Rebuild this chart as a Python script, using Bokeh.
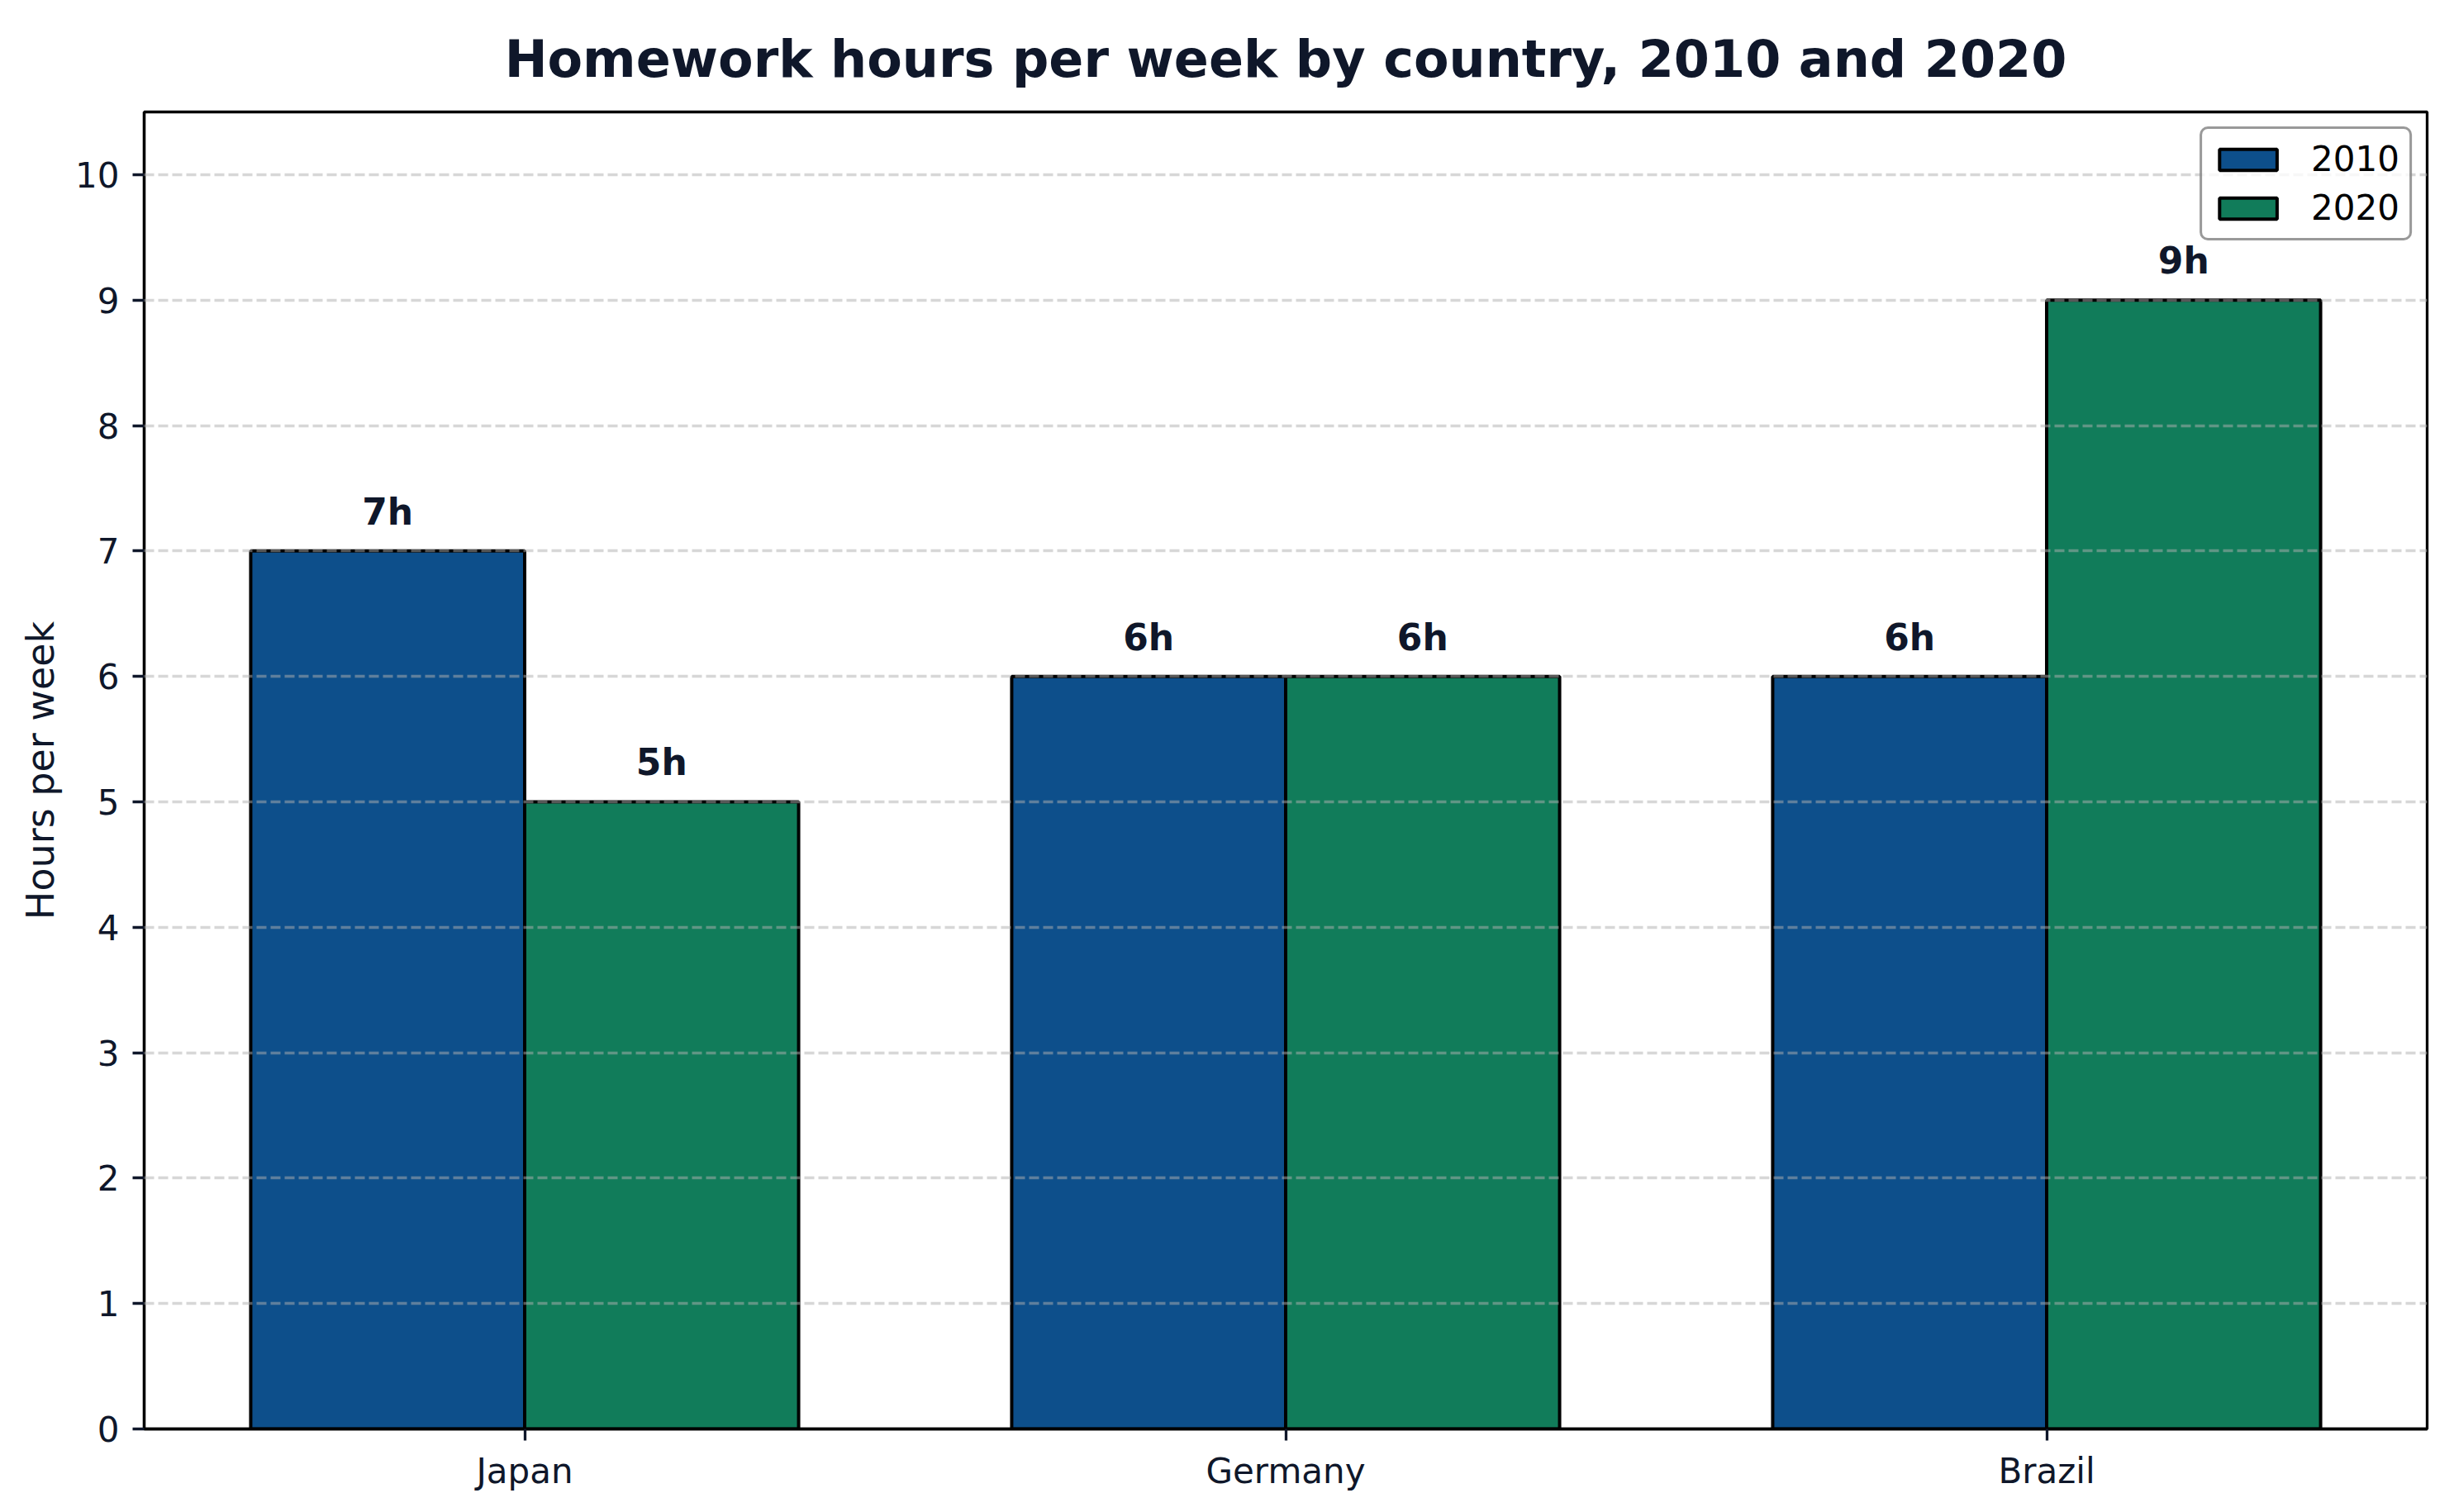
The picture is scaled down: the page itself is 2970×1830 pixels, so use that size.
from bokeh.plotting import figure
from bokeh.models import ColumnDataSource, FactorRange, Range1d, SingleIntervalTicker
from bokeh.transform import dodge
from bokeh.core.properties import value
from bokeh.embed import file_html
from bokeh.resources import INLINE

# data
countries = ["Japan", "Germany", "Brazil"]
hours_2010 = [7, 6, 6]
hours_2020 = [5, 6, 9]

BLUE = "#0d4f8b"
GREEN = "#117c5a"
NAVY = "#0f172a"
FONT = "DejaVu Sans"

src = ColumnDataSource(dict(
    country=countries,
    y2010=hours_2010,
    y2020=hours_2020,
    l2010=[f"{v}h" for v in hours_2010],
    l2020=[f"{v}h" for v in hours_2020],
))

p = figure(x_range=FactorRange(*countries), y_range=Range1d(0, 10.5),
           width=2954, height=1814, output_backend="svg", toolbar_location=None,
           min_border_left=174, min_border_right=17, min_border_top=135, min_border_bottom=85,
           title="Homework hours per week by country, 2010 and 2020")

p.vbar(x=dodge("country", -0.18, range=p.x_range), top="y2010", width=0.36, source=src,
       fill_color=BLUE, line_color="black", line_width=4, legend_label="2010")
p.vbar(x=dodge("country", 0.18, range=p.x_range), top="y2020", width=0.36, source=src,
       fill_color=GREEN, line_color="black", line_width=4, legend_label="2020")

# value labels above bars
for off, col, lab in [(-0.18, "y2010", "l2010"), (0.18, "y2020", "l2020")]:
    p.text(x=dodge("country", off, range=p.x_range), y=col, text=lab, source=src,
           text_align="center", text_baseline="bottom", y_offset=-22,
           text_font=value(FONT), text_font_style="bold", text_font_size="44px",
           text_color=NAVY)

# title
p.title.text_font = FONT
p.title.text_font_size = "62px"
p.title.text_font_style = "bold"
p.title.text_color = NAVY
p.title.align = "center"
p.title.standoff = 55

# axes
p.yaxis.ticker = SingleIntervalTicker(interval=1)
p.yaxis.axis_label = "Hours per week"
p.yaxis.axis_label_text_font = FONT
p.yaxis.axis_label_text_font_size = "46px"
p.yaxis.axis_label_text_font_style = "normal"
p.yaxis.axis_label_text_color = NAVY
p.yaxis.axis_label_standoff = 12
for ax in (p.xaxis, p.yaxis):
    ax.major_label_text_font = FONT
    ax.major_label_text_font_size = "42px"
    ax.major_label_text_color = NAVY
    ax.axis_line_color = "black"
    ax.axis_line_width = 3.3
    ax.major_tick_line_color = NAVY
    ax.major_tick_line_width = 3.3
    ax.major_tick_out = 14
    ax.major_tick_in = 0
    ax.minor_tick_line_color = None
p.yaxis.major_label_standoff = 16
p.xaxis.major_label_standoff = 12

p.outline_line_color = "black"
p.outline_line_width = 3.3

# grid
p.xgrid.grid_line_color = None
p.ygrid.grid_line_color = "#b0b0b0"
p.ygrid.grid_line_alpha = 0.5
p.ygrid.grid_line_width = 3.3
p.ygrid.grid_line_dash = "12 5"
p.ygrid.level = "guide"

# legend
p.legend.location = "top_right"
p.legend.label_text_font = FONT
p.legend.label_text_font_size = "42px"
p.legend.label_text_color = "black"
p.legend.glyph_width = 87
p.legend.glyph_height = 32
p.legend.label_standoff = 33
p.legend.spacing = 10
p.legend.padding = 12
p.legend.margin = 18
p.legend.border_line_color = "#333333"
p.legend.border_line_width = 3.5
p.legend.border_radius = 10
p.legend.background_fill_alpha = 0.8

open("out.html", "w").write(file_html(p, INLINE))
